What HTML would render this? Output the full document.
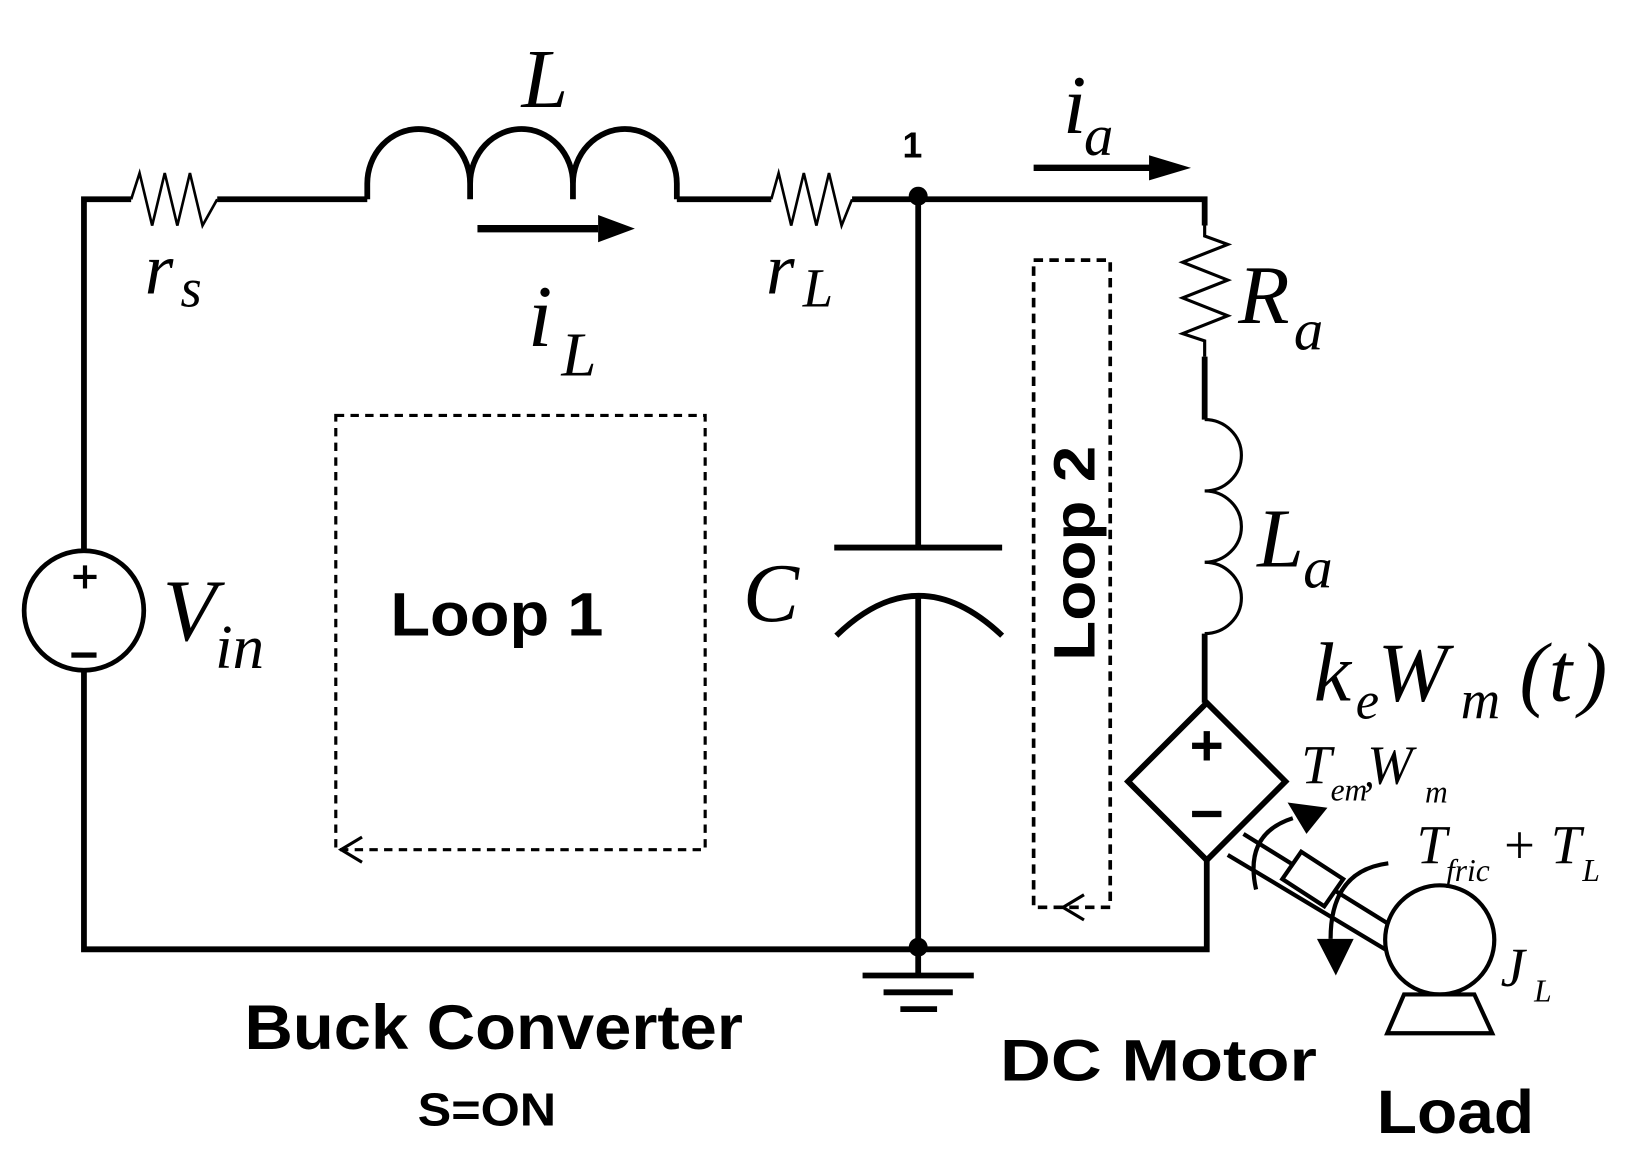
<!DOCTYPE html>
<html><head><meta charset="utf-8"><style>
html,body{margin:0;padding:0;background:#fff;}
svg{display:block;}
.s{font-family:"Liberation Serif",serif;font-style:italic;fill:#000;}
.b{font-family:"Liberation Sans",sans-serif;font-weight:bold;fill:#000;}
</style></head><body>
<svg width="1637" height="1157" viewBox="0 0 1560 1103" preserveAspectRatio="none" xmlns="http://www.w3.org/2000/svg">
<g fill="none" stroke="#000" stroke-width="5.5">
<polyline points="80,525 80,190 125,190"/>
<polyline points="80,640 80,905 1150,905 1150,820"/>
<polyline stroke-width="2.5" points="125,190 133,165 145,215 157,165 169,215 181,165 193,215 207,190"/>
<line x1="207" y1="190" x2="350" y2="190"/>
<path d="M350,190 L350,175 A49,52 0 0 1 448,175 L448,190 M448,175 A49,52 0 0 1 546,175 L546,190 M546,175 A49.5,52 0 0 1 645,175 L645,190"/>
<line x1="645" y1="190" x2="735" y2="190"/>
<polyline stroke-width="2.5" points="735,190 742,165 754,215 766,165 778,215 790,165 802,215 812,190"/>
<polyline points="812,190 1148,190 1148,215"/>
<polyline stroke-width="3" points="1148,215 1148,225 1170,233 1127,250 1170,267 1127,284 1170,301 1127,318 1148,325 1148,340"/>
<line x1="1148" y1="340" x2="1148" y2="400"/>
<path stroke-width="3" d="M1148,400 A35,34 0 0 1 1148,468 A35,34 0 0 1 1148,536 A35,34 0 0 1 1148,604"/>
<line x1="1148" y1="604" x2="1148" y2="670"/>
<polygon points="1150,670 1225,745 1150,820 1075,745"/>
<line x1="875" y1="190" x2="875" y2="522"/>
<line x1="795" y1="522" x2="955" y2="522"/>
<path d="M797,606 Q875,530 955,606"/>
<line x1="875" y1="566" x2="875" y2="930"/>
<line x1="822" y1="930" x2="928" y2="930"/>
<line x1="842" y1="946" x2="908" y2="946"/>
<line x1="858" y1="962" x2="893" y2="962"/>
<circle cx="80" cy="582" r="57" stroke-width="4.5"/>
<rect x="320" y="396" width="352" height="414" stroke-width="3" stroke-dasharray="8,6"/>
<polyline stroke-width="3" points="345,798 325,810 345,822"/>
<rect x="985" y="248" width="73" height="617" stroke-width="3.5" stroke-dasharray="9,6"/>
<polyline stroke-width="3" points="1033,853 1013,865 1033,877"/>
<line x1="455" y1="218" x2="570" y2="218" stroke-width="7"/>
<line x1="985" y1="160" x2="1100" y2="160" stroke-width="6"/>
<line x1="1185" y1="795" x2="1330" y2="885" stroke-width="4"/>
<line x1="1170" y1="815" x2="1320" y2="905" stroke-width="4"/>
<polygon points="1240,812 1280,838 1262,864 1222,838" fill="#fff" stroke-width="4"/>
<circle cx="1372" cy="896" r="52" fill="#fff" stroke-width="4"/>
<polygon points="1338,948 1405,948 1422,985 1322,985" stroke-width="4"/>
<path d="M1197,848 Q1185,795 1232,780" stroke-width="4"/>
<path d="M1323,823 Q1268,830 1268,895" stroke-width="4"/>
</g>
<g fill="#000">
<polygon points="570,205 605,218 570,231"/>
<polygon points="1095,148 1135,160 1095,172"/>
<circle cx="875" cy="187" r="9"/>
<circle cx="875" cy="903" r="9"/>
<polygon points="1227,765 1265,770 1245,795"/>
<polygon points="1255,895 1290,895 1273,930"/>
<rect x="70" y="548" width="22" height="4"/>
<rect x="79" y="539" width="4" height="22"/>
<rect x="68" y="622" width="24" height="5"/>
<rect x="1136" y="708" width="28" height="6"/>
<rect x="1147" y="697" width="6" height="28"/>
<rect x="1136" y="773" width="28" height="6"/>
</g>
<text class="s" x="497" y="102" font-size="80">L</text>
<text class="s" x="138" y="280" font-size="70">r</text><text class="s" x="172" y="292" font-size="52">s</text>
<text class="s" x="503" y="330" font-size="84">i</text><text class="s" x="535" y="358" font-size="60">L</text>
<text class="s" x="730" y="280" font-size="70">r</text><text class="s" x="765" y="292" font-size="52">L</text>
<text class="b" x="860" y="150" font-size="34">1</text>
<text class="s" x="1013" y="127" font-size="80">i</text><text class="s" x="1033" y="148" font-size="56">a</text>
<text class="s" x="1180" y="308" font-size="80">R</text><text class="s" x="1233" y="333" font-size="56">a</text>
<text class="s" x="1198" y="540" font-size="80">L</text><text class="s" x="1242" y="560" font-size="56">a</text>
<text class="s" x="708" y="592" font-size="80">C</text>
<text class="s" x="155" y="610" font-size="84">V</text><text class="s" x="205" y="637" font-size="60">in</text>
<text class="s" x="1252" y="668" font-size="80">k</text><text class="s" x="1292" y="685" font-size="50">e</text><text class="s" x="1313" y="668" font-size="80">W</text><text class="s" x="1392" y="685" font-size="52">m</text><text class="s" x="1448" y="668" font-size="80" font-style="normal">(</text><text class="s" x="1476" y="668" font-size="80">t</text><text class="s" x="1505" y="668" font-size="80" font-style="normal">)</text>
<text class="s" x="1240" y="747" font-size="52">T</text><text class="s" x="1268" y="763" font-size="30">em</text><text class="s" x="1300" y="750" font-size="40">,</text><text class="s" x="1303" y="747" font-size="52">W</text><text class="s" x="1358" y="765" font-size="30">m</text>
<text class="s" x="1350" y="823" font-size="52">T</text><text class="s" x="1378" y="840" font-size="30">fric</text><text class="s" x="1430" y="823" font-size="52" font-style="normal">+</text><text class="s" x="1478" y="823" font-size="52">T</text><text class="s" x="1508" y="840" font-size="30">L</text>
<text class="s" x="1430" y="940" font-size="52">J</text><text class="s" x="1462" y="955" font-size="30">L</text>
<text class="b" x="372" y="606" font-size="58" textLength="203" lengthAdjust="spacingAndGlyphs">Loop 1</text>
<text class="b" font-size="56" transform="translate(1043,630) rotate(-90)" textLength="205" lengthAdjust="spacingAndGlyphs">Loop 2</text>
<text class="b" x="233" y="1000" font-size="60" textLength="475" lengthAdjust="spacingAndGlyphs">Buck Converter</text>
<text class="b" x="398" y="1073" font-size="44" textLength="132" lengthAdjust="spacingAndGlyphs">S=ON</text>
<text class="b" x="953" y="1030" font-size="56" textLength="302" lengthAdjust="spacingAndGlyphs">DC Motor</text>
<text class="b" x="1312" y="1080" font-size="58" textLength="150" lengthAdjust="spacingAndGlyphs">Load</text>
</svg>
</body></html>
